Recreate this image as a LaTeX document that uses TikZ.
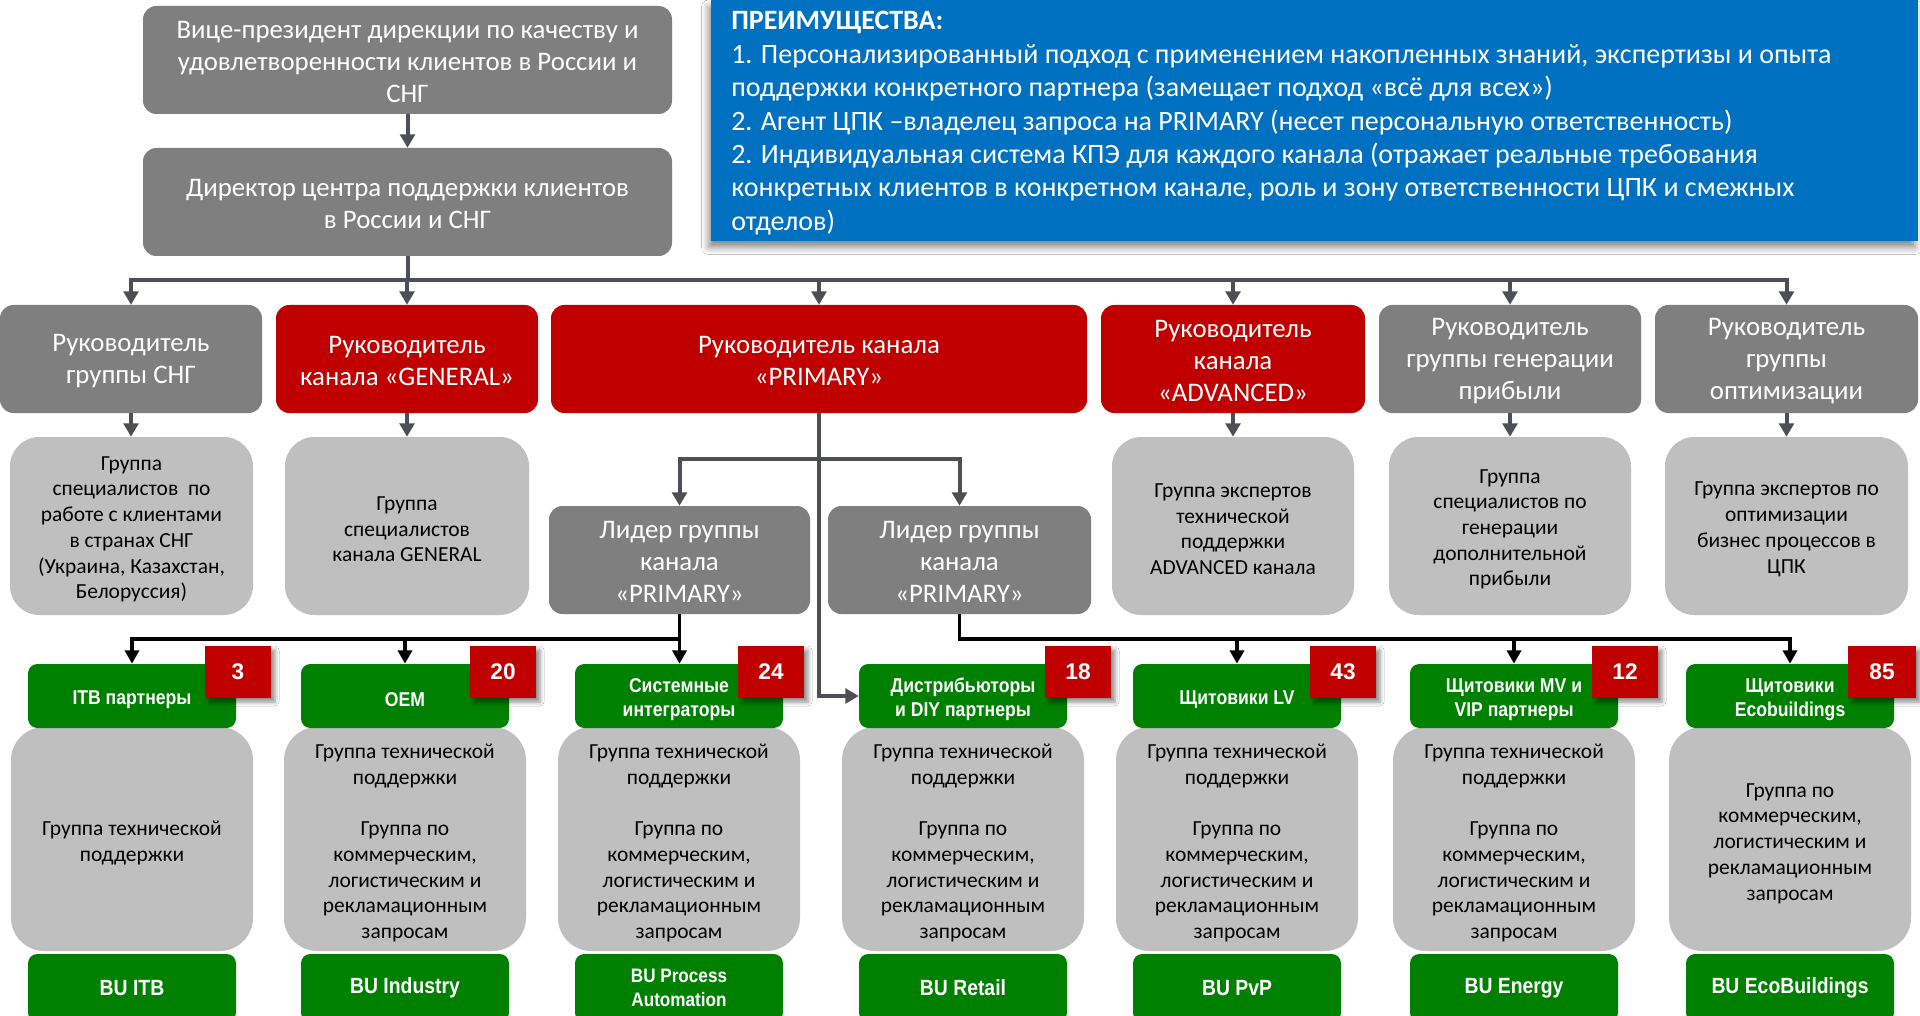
\documentclass[tikz,border=0pt]{standalone}
\usepackage{fontspec}
\setmainfont{Carlito}
\newfontfamily\narrowfont[FakeStretch=0.88]{Liberation Sans}
\newfontfamily\numfont{Liberation Sans}
\usetikzlibrary{arrows.meta,shadows.blur}
\definecolor{dgray}{RGB}{127,127,127}
\definecolor{lgray}{RGB}{191,191,191}
\definecolor{cred}{RGB}{192,0,0}
\definecolor{cgreen}{RGB}{0,128,0}
\definecolor{cblue}{RGB}{0,112,192}
\definecolor{conn}{RGB}{77,79,85}
\newcommand\mystrut{}
\newcommand\mybox[7]{\node[#2, minimum width={(#5-#3)*0.75pt}, minimum height={(#6-#4)*0.75pt}] (#1) at ({(#3+#5)/2},{(#4+#6)/2}) {\mystrut#7};}
\tikzset{
  mgr/.style={rounded corners=10pt, inner sep=0pt, align=center, text=white, font=\fontsize{20.1}{24}\selectfont\def\mystrut{\rule{0pt}{0.8em}}},
  graybox/.style={mgr, fill=dgray},
  redbox/.style={mgr, fill=cred},
  team/.style={fill=lgray, rounded corners=22pt, inner sep=0pt, align=center, text=black, font=\fontsize{16.1}{19.3}\selectfont\def\mystrut{\rule{0pt}{0.95em}}},
  body/.style={team, rounded corners=25pt, font=\fontsize{16.1}{19.3}\selectfont\def\mystrut{\rule{0pt}{1.05em}}},
  chan/.style={fill=cgreen, rounded corners=7pt, inner sep=0pt, align=center, text=white, font=\narrowfont\bfseries\fontsize{15}{18.4}\selectfont\def\mystrut{\rule{0pt}{1.05em}}},
  bu/.style={chan, font=\narrowfont\bfseries\fontsize{16.5}{18}\selectfont},
  bus/.style={chan, font=\narrowfont\bfseries\fontsize{14.6}{18}\selectfont},
  badge/.style={fill=cred, inner sep=0pt, text=white, font=\numfont\bfseries\fontsize{17}{20}\selectfont,
     blur shadow={shadow xshift=3pt, shadow yshift=-3pt, shadow blur radius=3pt, shadow opacity=45}},
  bluebox/.style={fill=cblue, inner sep=0pt,
     blur shadow={shadow xshift=-2pt, shadow yshift=-5pt, shadow blur radius=5pt, shadow opacity=45}},
  gline/.style={draw=conn, line width=3pt},
  garrow/.style={gline, -{Triangle[width=11pt,length=10pt]}},
  bline/.style={draw=black, line width=2.8pt},
  barrow/.style={bline, -{Triangle[width=10.5pt,length=10pt]}}
}
\begin{document}
\begin{tikzpicture}[x=0.75pt,y=-0.75pt]
\useasboundingbox (0,0) rectangle (1920,1016);
\clip (0,0) rectangle (1920,1016);
\fill[white] (0,0) rectangle (1920,1016);

% top
\mybox{vp}{graybox}{143}{6}{672}{114}{Вице-президент дирекции по качеству и\\удовлетворенности клиентов в России и\\СНГ}
\mybox{dir}{graybox}{143}{148}{672}{256}{Директор центра поддержки клиентов\\в России и СНГ}
\mybox{advbox}{bluebox}{711}{0}{1918}{241}{}
\node[anchor=north west, inner sep=0pt, align=left, text=white, font=\fontsize{21}{25.1}\selectfont] (advtext) at (731,11)
 {\textbf{ПРЕИМУЩЕСТВА:}\\
  1. Персонализированный подход с применением накопленных знаний, экспертизы и опыта\\
  поддержки конкретного партнера (замещает подход «всё для всех»)\\
  2. Агент ЦПК –владелец запроса на PRIMARY (несет персональную ответственность)\\
  2. Индивидуальная система КПЭ для каждого канала (отражает реальные требования\\
  конкретных клиентов в конкретном канале, роль и зону ответственности ЦПК и смежных\\
  отделов)};

% row 2
\mybox{r1}{graybox}{0}{305}{262}{413}{Руководитель\\группы СНГ}
\mybox{r2}{redbox}{276}{305}{538}{413}{Руководитель\\канала «GENERAL»}
\mybox{r3}{redbox}{551}{305}{1087}{413}{Руководитель канала\\«PRIMARY»}
\mybox{r4}{redbox}{1101}{305}{1365}{413}{Руководитель\\канала\\«ADVANCED»}
\mybox{r5}{graybox}{1379}{305}{1641}{413}{Руководитель\\группы генерации\\прибыли}
\mybox{r6}{graybox}{1655}{305}{1918}{413}{Руководитель\\группы\\оптимизации}

% row 3
\mybox{g1}{team}{10}{437}{253}{615}{Группа\\специалистов\ \ по\\работе с клиентами\\в странах СНГ\\(Украина, Казахстан,\\Белоруссия)}
\mybox{g2}{team}{285}{437}{529}{615}{Группа\\специалистов\\канала GENERAL}
\mybox{g4}{team}{1112}{437}{1354}{615}{Группа экспертов\\технической\\поддержки\\ADVANCED канала}
\mybox{g5}{team}{1389}{437}{1631}{615}{Группа\\специалистов по\\генерации\\дополнительной\\прибыли}
\mybox{g6}{team}{1665}{437}{1908}{615}{Группа экспертов по\\оптимизации\\бизнес процессов в\\ЦПК}

% leaders
\mybox{l1}{graybox}{549}{506}{810}{614}{Лидер группы\\канала\\«PRIMARY»}
\mybox{l2}{graybox}{828}{506}{1091}{614}{Лидер группы\\канала\\«PRIMARY»}

% bodies
\mybox{s1}{body}{11}{727}{253}{951}{Группа технической\\поддержки}
\mybox{s2}{body}{284}{727}{526}{951}{Группа технической\\поддержки\\~\\Группа по\\коммерческим,\\логистическим и\\рекламационным\\запросам}
\mybox{s3}{body}{558}{727}{800}{951}{Группа технической\\поддержки\\~\\Группа по\\коммерческим,\\логистическим и\\рекламационным\\запросам}
\mybox{s4}{body}{842}{727}{1084}{951}{Группа технической\\поддержки\\~\\Группа по\\коммерческим,\\логистическим и\\рекламационным\\запросам}
\mybox{s5}{body}{1116}{727}{1358}{951}{Группа технической\\поддержки\\~\\Группа по\\коммерческим,\\логистическим и\\рекламационным\\запросам}
\mybox{s6}{body}{1393}{727}{1635}{951}{Группа технической\\поддержки\\~\\Группа по\\коммерческим,\\логистическим и\\рекламационным\\запросам}
\mybox{s7}{body}{1669}{727}{1911}{951}{Группа по\\коммерческим,\\логистическим и\\рекламационным\\запросам}

% channel headers
\mybox{h1}{chan}{28}{664}{236}{728}{ITB партнеры}
\mybox{h2}{chan}{301}{664}{509}{728}{OEM}
\mybox{h3}{chan}{575}{664}{783}{728}{Системные\\интеграторы}
\mybox{h4}{chan}{859}{664}{1067}{728}{Дистрибьюторы\\и DIY партнеры}
\mybox{h5}{chan}{1133}{664}{1341}{728}{Щитовики LV}
\mybox{h6}{chan}{1410}{664}{1618}{728}{Щитовики MV и\\VIP партнеры}
\mybox{h7}{chan}{1686}{664}{1894}{728}{Щитовики\\Ecobuildings}

% BU boxes
\mybox{u1}{bu}{28}{954}{236}{1022}{BU ITB}
\mybox{u2}{bu}{301}{954}{509}{1022}{BU Industry}
\mybox{u3}{bus}{575}{954}{783}{1022}{BU Process\\Automation}
\mybox{u4}{bu}{859}{954}{1067}{1022}{BU Retail}
\mybox{u5}{bu}{1133}{954}{1341}{1022}{BU PvP}
\mybox{u6}{bu}{1410}{954}{1618}{1022}{BU Energy}
\mybox{u7}{bu}{1686}{954}{1894}{1022}{BU EcoBuildings}

% badges
\mybox{k1}{badge}{205}{646}{271}{698}{3}
\mybox{k2}{badge}{470}{646}{536}{698}{20}
\mybox{k3}{badge}{738}{646}{804}{698}{24}
\mybox{k4}{badge}{1045}{646}{1111}{698}{18}
\mybox{k5}{badge}{1310}{646}{1376}{698}{43}
\mybox{k6}{badge}{1592}{646}{1658}{698}{12}
\mybox{k7}{badge}{1848}{646}{1916}{698}{85}

% gray connectors
\draw[garrow] (vp.south) -- (dir.north);
\draw[garrow] (dir.south) |- (r1.north |- 0,280) -- (r1.north);
\draw[garrow] (dir.south) |- (r6.north |- 0,280) -- (r6.north);
\draw[garrow] (r2.north |- 0,280) -- (r2.north);
\draw[garrow] (r3.north |- 0,280) -- (r3.north);
\draw[garrow] (r4.north |- 0,280) -- (r4.north);
\draw[garrow] (r5.north |- 0,280) -- (r5.north);
\draw[garrow] (r1.south) -- (r1.south |- g1.north);
\draw[garrow] (r2.south) -- (r2.south |- g2.north);
\draw[garrow] (r4.south) -- (r4.south |- g4.north);
\draw[garrow] (r5.south) -- (r5.south |- g5.north);
\draw[garrow] (r6.south) -- (r6.south |- g6.north);
\draw[garrow] (r3.south) |- (l1.north |- 0,459) -- (l1.north);
\draw[garrow] (r3.south) |- (l2.north |- 0,459) -- (l2.north);
\draw[garrow] (r3.south) |- (h4.west);

% black connectors
\draw[barrow] (l1.south) |- (h1.north |- 0,639) -- (h1.north);
\draw[barrow] (h2.north |- 0,639) -- (h2.north);
\draw[barrow] (l1.south) -- (l1.south |- h3.north);
\draw[barrow] (l2.south) |- (h7.north |- 0,639) -- (h7.north);
\draw[barrow] (h5.north |- 0,639) -- (h5.north);
\draw[barrow] (h6.north |- 0,639) -- (h6.north);
\end{tikzpicture}
\end{document}
